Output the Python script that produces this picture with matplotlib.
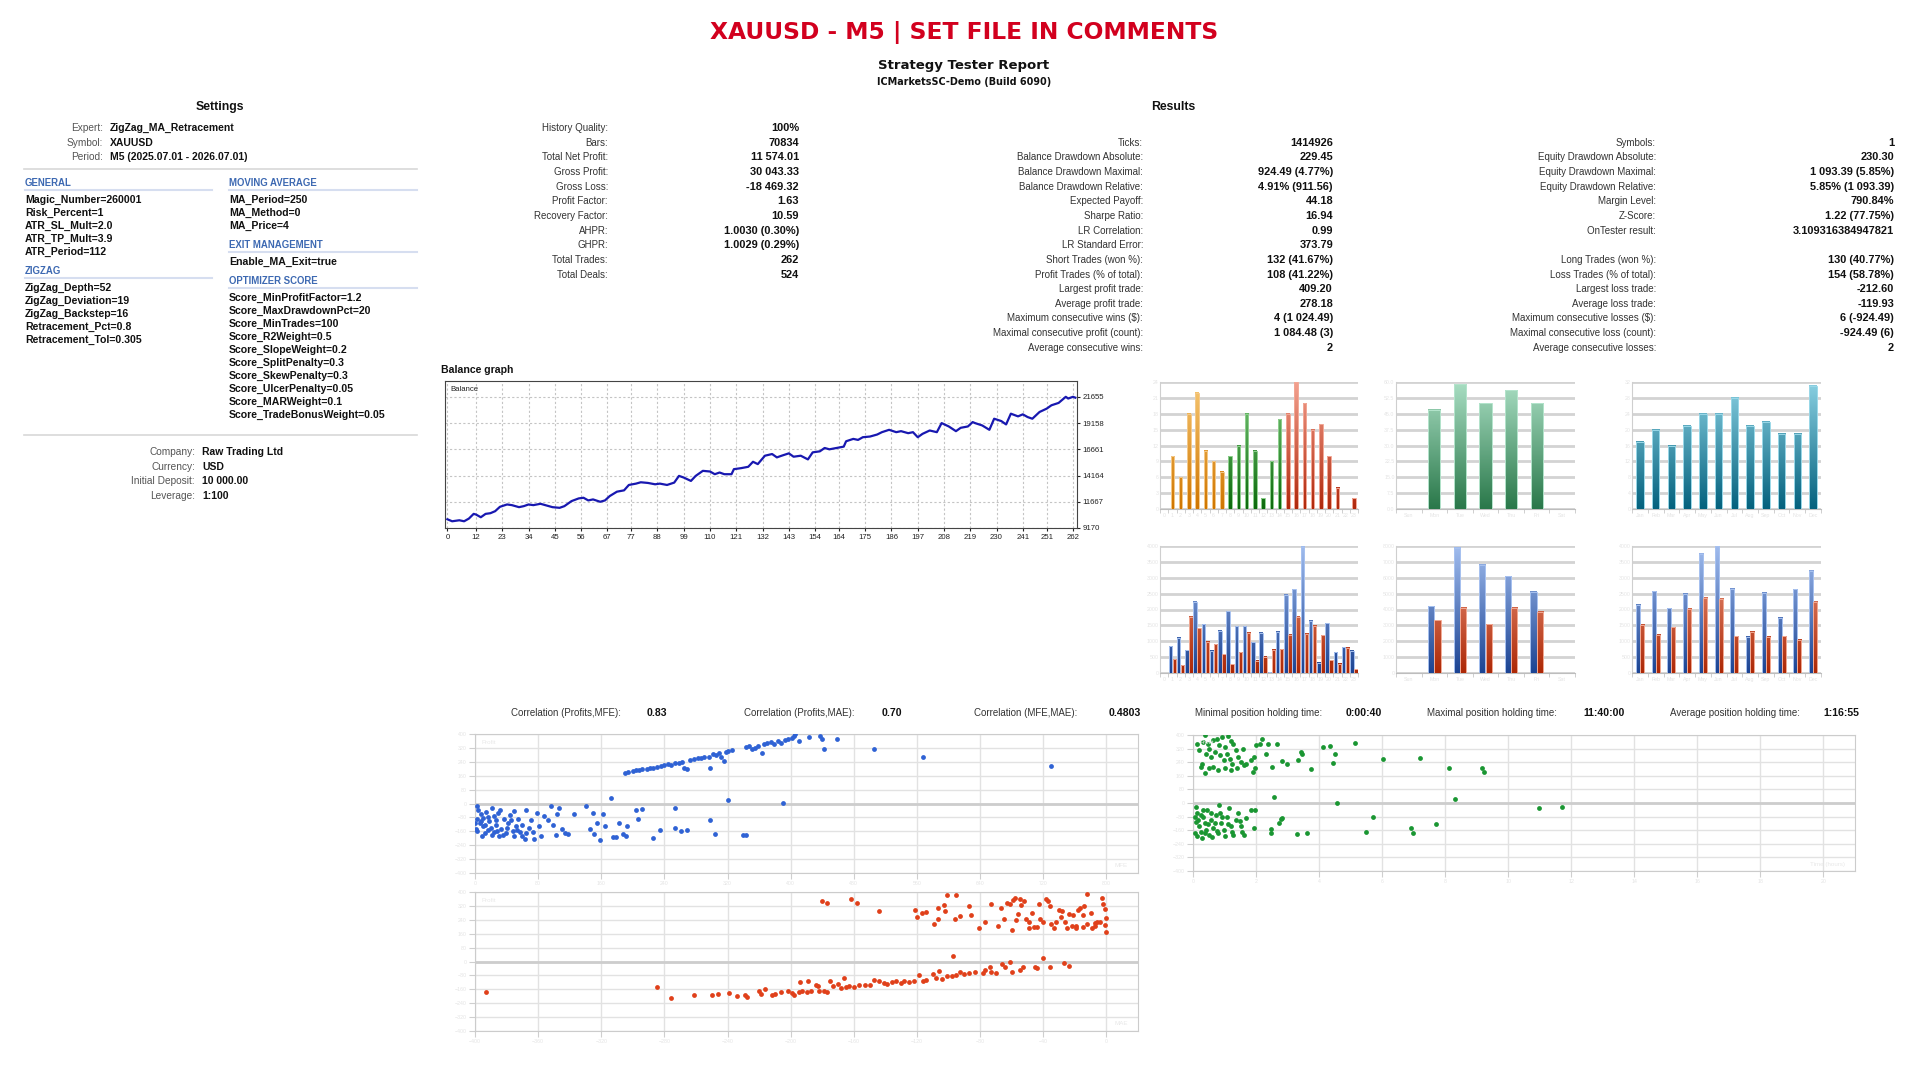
import numpy as np
import matplotlib
matplotlib.use('Agg')
import matplotlib.pyplot as plt
from matplotlib.colors import LinearSegmentedColormap
from matplotlib.patches import Rectangle

plt.rcParams['font.family'] = ['Liberation Sans', 'DejaVu Sans']

# ---------------- data ----------------
title = 'XAUUSD - M5 | SET FILE IN COMMENTS'

settings_head = [('Expert:', 'ZigZag_MA_Retracement'),
                 ('Symbol:', 'XAUUSD'),
                 ('Period:', 'M5 (2025.07.01 - 2026.07.01)')]
general = ['Magic_Number=260001', 'Risk_Percent=1', 'ATR_SL_Mult=2.0',
           'ATR_TP_Mult=3.9', 'ATR_Period=112']
zigzag = ['ZigZag_Depth=52', 'ZigZag_Deviation=19', 'ZigZag_Backstep=16',
          'Retracement_Pct=0.8', 'Retracement_Tol=0.305']
moving_average = ['MA_Period=250', 'MA_Method=0', 'MA_Price=4']
exit_management = ['Enable_MA_Exit=true']
optimizer_score = ['Score_MinProfitFactor=1.2', 'Score_MaxDrawdownPct=20',
                   'Score_MinTrades=100', 'Score_R2Weight=0.5',
                   'Score_SlopeWeight=0.2', 'Score_SplitPenalty=0.3',
                   'Score_SkewPenalty=0.3', 'Score_UlcerPenalty=0.05',
                   'Score_MARWeight=0.1', 'Score_TradeBonusWeight=0.05']
account = [('Company:', 'Raw Trading Ltd'), ('Currency:', 'USD'),
           ('Initial Deposit:', '10 000.00'), ('Leverage:', '1:100')]

results_left = [('History Quality:', '100%'), ('Bars:', '70834'),
                ('Total Net Profit:', '11 574.01'), ('Gross Profit:', '30 043.33'),
                ('Gross Loss:', '-18 469.32'), ('Profit Factor:', '1.63'),
                ('Recovery Factor:', '10.59'), ('AHPR:', '1.0030 (0.30%)'),
                ('GHPR:', '1.0029 (0.29%)'), ('Total Trades:', '262'),
                ('Total Deals:', '524')]
results_mid = [None, ('Ticks:', '1414926'),
               ('Balance Drawdown Absolute:', '229.45'),
               ('Balance Drawdown Maximal:', '924.49 (4.77%)'),
               ('Balance Drawdown Relative:', '4.91% (911.56)'),
               ('Expected Payoff:', '44.18'), ('Sharpe Ratio:', '16.94'),
               ('LR Correlation:', '0.99'), ('LR Standard Error:', '373.79'),
               ('Short Trades (won %):', '132 (41.67%)'),
               ('Profit Trades (% of total):', '108 (41.22%)'),
               ('Largest profit trade:', '409.20'),
               ('Average profit trade:', '278.18'),
               ('Maximum consecutive wins ($):', '4 (1 024.49)'),
               ('Maximal consecutive profit (count):', '1 084.48 (3)'),
               ('Average consecutive wins:', '2')]
results_right = [None, ('Symbols:', '1'),
                 ('Equity Drawdown Absolute:', '230.30'),
                 ('Equity Drawdown Maximal:', '1 093.39 (5.85%)'),
                 ('Equity Drawdown Relative:', '5.85% (1 093.39)'),
                 ('Margin Level:', '790.84%'), ('Z-Score:', '1.22 (77.75%)'),
                 ('OnTester result:', '3.109316384947821'), None,
                 ('Long Trades (won %):', '130 (40.77%)'),
                 ('Loss Trades (% of total):', '154 (58.78%)'),
                 ('Largest loss trade:', '-212.60'),
                 ('Average loss trade:', '-119.93'),
                 ('Maximum consecutive losses ($):', '6 (-924.49)'),
                 ('Maximal consecutive loss (count):', '-924.49 (6)'),
                 ('Average consecutive losses:', '2')]

corr_stats = [('Correlation (Profits,MFE):', '0.83'),
              ('Correlation (Profits,MAE):', '0.70'),
              ('Correlation (MFE,MAE):', '0.4803')]
hold_stats = [('Minimal position holding time:', '0:00:40'),
              ('Maximal position holding time:', '11:40:00'),
              ('Average position holding time:', '1:16:55')]

# balance curve (trade number, balance)
balance_points = [(0, 10000), (2, 9810), (4, 9874), (5, 9906), (7, 9810), (9, 10066),
                  (11, 10514), (12, 10450), (14, 10194), (16, 10514), (18, 10578),
                  (20, 10770), (22, 11186), (25, 11410), (27, 11346), (30, 11154),
                  (32, 11250), (34, 11410), (36, 11346), (39, 11474), (41, 11346),
                  (44, 11154), (47, 11090), (49, 11250), (52, 11730), (55, 11986),
                  (57, 12050), (59, 11794), (61, 11890), (64, 11666), (66, 11794),
                  (68, 12210), (71, 12626), (74, 12754), (76, 13266), (79, 13394),
                  (81, 13522), (84, 13458), (87, 13330), (89, 13394), (92, 13266),
                  (95, 13490), (97, 14130), (99, 13970), (102, 13650), (104, 14130),
                  (107, 14610), (110, 14546), (112, 14290), (114, 14450), (116, 14290),
                  (119, 14290), (120, 14770), (123, 14866), (126, 14994), (128, 15474),
                  (130, 15250), (133, 16050), (136, 16210), (138, 15890), (140, 16050),
                  (143, 16274), (145, 15954), (148, 16050), (151, 15698), (153, 16370),
                  (156, 16466), (158, 16786), (160, 16658), (163, 16786), (166, 16914),
                  (167, 17426), (170, 17650), (172, 17554), (174, 17810), (177, 17874),
                  (180, 18066), (182, 18290), (185, 18514), (188, 18290), (190, 18386),
                  (193, 18194), (195, 18290), (197, 17810), (199, 18130), (202, 18450),
                  (205, 18290), (207, 19154), (210, 18834), (213, 18386), (215, 18706),
                  (218, 18834), (220, 19250), (221, 19154), (224, 18930), (227, 18514),
                  (229, 19570), (232, 19346), (234, 19026), (236, 20050), (239, 19794),
                  (241, 19986), (243, 19730), (245, 19570), (248, 20210), (251, 20530),
                  (253, 20850), (256, 21074), (259, 21655), (260, 21490), (262, 21655),
                  (263, 21574)]
bal_xticks = [0, 12, 23, 34, 45, 56, 67, 77, 88, 99, 110, 121, 132, 143, 154, 164,
              175, 186, 197, 208, 219, 230, 241, 251, 262]
bal_yticks = [9170, 11667, 14164, 16661, 19158, 21655]

hours = [str(h) for h in range(24)]
weekdays = ['Sun', 'Mon', 'Tue', 'Wed', 'Thu', 'Fri', 'Sat']
months = ['Jan', 'Feb', 'Mar', 'Apr', 'May', 'Jun', 'Jul', 'Aug', 'Sep', 'Oct', 'Nov', 'Dec']

entries_by_hour = [0, 10, 6, 18, 22, 11, 9, 7, 10, 12, 18, 11, 2, 9, 17, 18, 24, 20,
                   15, 16, 10, 4, 0, 2]
entries_by_weekday = [0, 47, 59, 50, 56, 50, 0]
entries_by_month = [17, 20, 16, 21, 24, 24, 28, 21, 22, 19, 19, 31]

profit_by_hour = [0, 840, 1115, 715, 2250, 1535, 695, 1325, 1945, 1470, 1470, 975,
                  1260, 30, 1305, 2460, 2635, 3970, 1640, 315, 1565, 660, 810, 695]
loss_by_hour = [0, 430, 250, 1765, 1410, 985, 905, 590, 275, 650, 1260, 380, 505,
                735, 755, 1210, 1765, 1230, 1490, 1195, 400, 285, 800, 125]
profit_by_weekday = [0, 4220, 7900, 6810, 6090, 5130, 0]
loss_by_weekday = [0, 3320, 4100, 3070, 4100, 3870, 0]
profit_by_month = [2145, 2575, 2040, 2500, 3750, 4000, 2660, 1135, 2530, 1735, 2645, 3225]
loss_by_month = [1515, 1210, 1440, 2025, 2375, 2340, 1155, 1300, 1145, 1165, 1050, 2250]

# scatter: (MFE, profit)
mfe_profit = [(190, 177), (194, 183), (200, 187), (204, 190), (208, 192), (212, 196),
              (218, 200), (222, 204), (226, 206), (231, 210), (236, 215), (240, 223),
              (244, 225), (248, 221), (254, 231), (258, 235), (262, 240), (265, 206),
              (269, 200), (273, 250), (277, 254), (282, 260), (286, 262), (290, 265),
              (297, 269), (298, 206), (301, 283), (305, 277), (309, 288), (312, 269),
              (318, 296), (320, 302), (325, 308), (316, 244), (343, 327), (347, 331),
              (351, 315), (355, 321), (359, 331), (364, 288), (366, 340), (370, 350),
              (375, 354), (379, 340), (384, 360), (388, 350), (393, 365), (397, 373),
              (401, 379), (404, 388), (406, 398), (410, 360), (423, 385), (437, 388),
              (440, 369), (442, 315), (459, 369), (506, 315), (568, 269), (730, 215),
              (2, -15), (4, -35), (7, -63), (3, -92), (6, -115), (10, -131), (2, -160),
              (13, -169), (9, -188), (16, -77), (18, -102), (20, -140), (22, -25),
              (24, -165), (27, -121), (29, -54), (31, -188), (33, -146), (37, -92),
              (39, -169), (42, -112), (44, -69), (48, -160), (50, -188), (52, -131),
              (54, -88), (57, -165), (60, -121), (63, -204), (65, -35), (68, -140),
              (71, -96), (75, -204), (78, -54), (81, -127), (83, -188), (88, -73),
              (92, -96), (96, -15), (99, -121), (102, -179), (104, -63), (107, -25),
              (110, -146), (114, -169), (118, -173), (125, -63), (140, -12),
              (146, -146), (149, -54), (151, -175), (154, -112), (158, -208),
              (162, -63), (165, -127), (172, 33), (175, -192), (179, -194), (183, -115),
              (187, -173), (191, -188), (193, -131), (204, -35), (206, -92), (212, -29),
              (226, -200), (235, -154), (254, -25), (254, -140), (261, -160),
              (268, -154), (298, -96), (304, -175), (320, 19), (340, -179), (343, -183),
              (390, 2), (7, -102), (13, -121), (17, -150), (21, -179), (26, -96),
              (28, -160), (35, -179), (41, -140), (46, -96), (53, -154), (59, -185),
              (64, -169), (74, -165), (10, -83), (0, -112), (1, -146), (14, -50),
              (32, -35), (49, -44), (24, -73)]

# scatter: (holding hours, profit)
hold_profit = [(0.38, 398), (0.31, 359), (0.47, 349), (0.51, 320), (0.65, 369),
               (0.75, 378), (0.83, 339), (0.93, 388), (1.03, 330), (1.11, 392),
               (1.21, 365), (1.28, 349), (1.35, 310), (0.42, 291), (0.58, 271),
               (0.69, 300), (0.86, 281), (0.97, 255), (1.07, 291), (1.17, 261),
               (1.25, 232), (1.42, 271), (1.53, 242), (1.58, 320), (1.69, 232),
               (1.83, 252), (1.94, 271), (2.0, 339), (2.11, 345), (2.18, 378),
               (2.32, 291), (2.39, 349), (2.5, 213), (2.67, 349), (1.97, 203),
               (1.9, 183), (1.63, 222), (1.39, 203), (1.21, 193), (1.0, 203),
               (0.79, 197), (0.65, 213), (0.51, 203), (0.38, 177), (0.24, 213),
               (0.19, 310), (0.14, 349), (0.28, 232), (2.83, 248), (2.97, 232),
               (3.33, 252), (3.43, 300), (3.47, 287), (3.75, 199), (4.13, 330),
               (4.36, 335), (4.5, 291), (4.44, 238), (5.14, 353), (6.04, 259),
               (7.21, 265), (8.11, 205), (9.17, 205), (9.22, 181),
               (0.1, -21), (0.14, -60), (0.17, -99), (0.19, -138), (0.06, -177),
               (0.24, -168), (0.28, -207), (0.33, -80), (0.38, -119), (0.42, -158),
               (0.44, -41), (0.51, -187), (0.58, -99), (0.65, -148), (0.72, -70),
               (0.79, -174), (0.83, -12), (0.89, -119), (0.97, -158), (1.07, -80),
               (1.14, -31), (1.21, -138), (1.28, -187), (1.35, -99), (1.42, -60),
               (1.53, -138), (1.63, -187), (1.69, -90), (1.83, -41), (1.94, -148),
               (1.97, -41), (2.46, -154), (2.46, -177), (2.74, -119), (2.78, -96),
               (2.81, -90), (3.29, -181), (3.61, -174), (2.56, 33), (4.56, 2),
               (5.5, -168), (5.72, -84), (6.9, -148), (6.97, -174), (7.72, -123),
               (8.31, 21), (10.96, -31), (11.71, -21), (0.1, -109), (0.24, -70),
               (0.31, -41), (0.47, -123), (0.56, -60), (0.61, -201), (0.69, -115),
               (0.75, -162), (0.93, -84), (1.03, -193), (1.11, -123), (1.25, -168),
               (0.06, -80), (0.14, -193), (0.38, -177), (0.86, -57), (1.49, -103),
               (1.56, -168)]

# scatter: (MAE, profit)
mae_profit = [(-180, 347), (-177, 339), (-162, 358), (-158, 339), (-144, 290),
              (-121, 295), (-120, 257), (-117, 282), (-114, 286), (-109, 213),
              (-107, 244), (-107, 309), (-103, 324), (-101, 381), (-102, 290),
              (-96, 244), (-95, 385), (-93, 263), (-87, 320), (-86, 267), (-81, 191),
              (-77, 225), (-73, 333), (-69, 206), (-67, 309), (-65, 244), (-63, 339),
              (-61, 333), (-60, 181), (-59, 352), (-58, 366), (-57, 238), (-56, 271),
              (-55, 358), (-54, 328), (-52, 347), (-51, 244), (-49, 225), (-49, 191),
              (-47, 282), (-46, 200), (-44, 200), (-43, 333), (-42, 244), (-40, 229),
              (-38, 362), (-37, 347), (-36, 320), (-35, 213), (-33, 191), (-32, 225),
              (-30, 295), (-29, 257), (-28, 290), (-26, 225), (-25, 191), (-24, 271),
              (-21, 267), (-19, 191), (-19, 206), (-18, 295), (-17, 309), (-15, 267),
              (-14, 320), (-12, 391), (-12, 213), (-10, 282), (-9, 191), (-7, 219),
              (-7, 206), (-6, 229), (-4, 225), (-3, 366), (-2, 333), (-1, 305),
              (-1, 210), (0, 251), (0, 171), (-15, 200), (-22, 206),
              (-393, -175), (-285, -149), (-276, -210), (-261, -194), (-250, -194),
              (-246, -187), (-239, -181), (-234, -196), (-229, -191), (-228, -202),
              (-220, -171), (-219, -185), (-216, -156), (-212, -194), (-210, -187),
              (-206, -175), (-202, -168), (-199, -181), (-198, -191), (-195, -175),
              (-194, -118), (-193, -171), (-190, -175), (-189, -114), (-187, -168),
              (-184, -133), (-183, -143), (-182, -171), (-179, -168), (-177, -175),
              (-175, -110), (-173, -143), (-170, -130), (-168, -152), (-166, -95),
              (-165, -149), (-163, -143), (-160, -149), (-157, -133), (-153, -133),
              (-150, -137), (-147, -105), (-144, -110), (-141, -124), (-139, -130),
              (-136, -118), (-133, -114), (-130, -124), (-128, -114), (-125, -118),
              (-122, -114), (-119, -76), (-116, -114), (-114, -105), (-110, -72),
              (-108, -95), (-106, -53), (-104, -99), (-101, -86), (-98, -86),
              (-97, 34), (-95, -76), (-93, -61), (-90, -72), (-87, -67), (-83, -61),
              (-78, -67), (-77, -48), (-74, -29), (-73, -61), (-70, -67), (-66, -15),
              (-64, -34), (-61, 0), (-60, -61), (-55, -48), (-53, -34), (-45, -30),
              (-44, -38), (-40, 19), (-36, -34), (-27, -11), (-24, -25)]

# ---------------- layout helpers (pixel positions) ----------------
W, H = 1920, 1078
fig = plt.figure(figsize=(W / 100, H / 100), dpi=100)
fig.patch.set_facecolor('white')


def txt(x, y, s, size=7.0, bold=False, color='#222222', ha='left', **kw):
    fig.text(x / W, 1 - y / H, s, fontsize=size,
             fontweight='bold' if bold else 'normal', color=color,
             ha=ha, va='center', **kw)


def hline(x0, x1, y, color='#d8d8d8', lw=1.2):
    fig.add_artist(plt.Line2D([x0 / W, x1 / W], [1 - y / H, 1 - y / H],
                              color=color, lw=lw))


def axes_px(x0, y0, x1, y1):
    return fig.add_axes([x0 / W, 1 - y1 / H, (x1 - x0) / W, (y1 - y0) / H])


# ---------------- header ----------------
txt(964, 33, title, size=16.8, bold=True, color='#d2001e', ha='center',
    family='DejaVu Sans')
txt(964, 65, 'Strategy Tester Report', size=9.5, bold=True, color='#111111',
    ha='center', family='DejaVu Sans')
txt(964, 82, 'ICMarketsSC-Demo (Build 6090)', size=6.9, bold=True,
    color='#111111', ha='center', family='DejaVu Sans')

# ---------------- settings ----------------
txt(220, 107, 'Settings', size=8.8, bold=True, ha='center', color='#111111')
for i, (lab, val) in enumerate(settings_head):
    y = 128 + 14.5 * i
    txt(103, y, lab, size=7.3, color='#555555', ha='right')
    txt(110, y, val, size=7.5, bold=True, color='#111111')
hline(24, 417, 169)

head_col = '#3d69b2'


def section(x0, x1, y, name, items):
    txt(x0, y, name, size=6.9, bold=True, color=head_col)
    hline(x0, x1, y + 7, color='#d6def0', lw=1.5)
    y += 17
    for it in items:
        txt(x0, y, it, size=7.6, bold=True, color='#111111')
        y += 13
    return y - 13 + 19


y_next = section(25, 212, 183, 'GENERAL', general)
section(25, 212, y_next, 'ZIGZAG', zigzag)
y_next = section(229, 417, 183, 'MOVING AVERAGE', moving_average)
y_next = section(229, 417, y_next, 'EXIT MANAGEMENT', exit_management)
section(229, 417, y_next, 'OPTIMIZER SCORE', optimizer_score)

hline(24, 417, 435)
for i, (lab, val) in enumerate(account):
    y = 452 + 14.7 * i
    txt(195, y, lab, size=7.3, color='#555555', ha='right')
    txt(202, y, val, size=7.5, bold=True, color='#111111')

# ---------------- results ----------------
txt(1173, 107, 'Results', size=8.8, bold=True, ha='center', color='#111111')


def result_col(rows, lab_x, val_x):
    for i, row in enumerate(rows):
        if row is None:
            continue
        y = 128 + 14.65 * i
        txt(lab_x, y, row[0], size=7.0, color='#333333', ha='right')
        txt(val_x, y, row[1], size=7.9, bold=True, color='#111111', ha='right')


result_col(results_left, 608, 799)
result_col(results_mid, 1143, 1333)
result_col(results_right, 1656, 1894)

# ---------------- balance graph ----------------
txt(441, 370, 'Balance graph', size=7.6, bold=True, color='#111111')
ax = axes_px(445, 381, 1077, 528)
bt, bv = np.array(balance_points).T
ax.plot(bt, bv, color='#1818b0', lw=1.6)
ax.set_xlim(-1, 263.7)
ax.set_ylim(9170, 23160)
ax.set_xticks(bal_xticks)
ax.set_yticks(bal_yticks)
ax.yaxis.tick_right()
ax.grid(color='#c4c4c4', lw=0.8, ls=(0, (2, 2)))
ax.tick_params(labelsize=5.6, length=2, pad=2, colors='#222222')
for s in ax.spines.values():
    s.set_color('#444444')
    s.set_linewidth(0.8)
ax.text(0.008, 0.965, 'Balance', transform=ax.transAxes, fontsize=5.6,
        va='top', ha='left', color='#222222')


# ---------------- bar charts ----------------
def grad_bar(ax, x, h, w, ctop, cbot, ymax, edge):
    if h <= 0:
        return
    cmap = LinearSegmentedColormap.from_list('g', [cbot, ctop])
    g = np.linspace(0, h / ymax, 60).reshape(-1, 1)
    ax.imshow(g, extent=(x - w / 2, x + w / 2, 0, h), origin='lower',
              aspect='auto', cmap=cmap, vmin=0, vmax=1, zorder=3,
              interpolation='bilinear')
    ax.add_patch(Rectangle((x - w / 2, 0), w, h, fill=False, ec=edge,
                           lw=0.7, zorder=4))


def bar_axes(box, labels, ymax, step):
    ax = axes_px(*box)
    n = len(labels)
    ax.set_xticks(np.arange(n))
    ax.set_xticklabels(labels)
    ax.set_xticks(np.arange(-0.5, n), minor=True)
    ax.set_yticks(np.arange(0, ymax + step * 0.01, step))
    ax.grid(axis='y', color='#d3d3d3', lw=2.0)
    ax.set_axisbelow(True)
    for s in ['top', 'right']:
        ax.spines[s].set_visible(False)
    ax.spines['left'].set_color('#cfcfcf')
    ax.spines['bottom'].set_color('#bdbdbd')
    ax.tick_params(axis='x', which='major', length=0, labelsize=3.8,
                   labelcolor='#e4e4e4', pad=3)
    ax.tick_params(axis='x', which='minor', length=3, color='#c8c8c8')
    ax.tick_params(axis='y', length=0, labelsize=3.8, labelcolor='#e4e4e4', pad=1)
    return ax


def finish(ax, n, ymax):
    ax.set_xlim(-0.5, n - 0.5)
    ax.set_ylim(0, ymax)


col_x = [(1160, 1358), (1396, 1575), (1632, 1821)]

# entries by hours (orange / green / red sessions)
ax = bar_axes((col_x[0][0], 382, col_x[0][1], 509), hours, 24, 3)
for i, v in enumerate(entries_by_hour):
    if i <= 7:
        ct, cb, ce = '#f7c873', '#d07600', '#f4c98a'
    elif i <= 14:
        ct, cb, ce = '#7fcb7f', '#0c6a0c', '#8fd08f'
    else:
        ct, cb, ce = '#f3a08e', '#b0280c', '#f2a896'
    grad_bar(ax, i, v, 0.45, ct, cb, 24, ce)
finish(ax, 24, 24)

ax = bar_axes((col_x[1][0], 382, col_x[1][1], 509), weekdays, 60, 7.5)
for i, v in enumerate(entries_by_weekday):
    grad_bar(ax, i, v, 0.47, '#a8ddc2', '#2a784a', 60, '#b4e4cc')
finish(ax, 7, 60)

ax = bar_axes((col_x[2][0], 382, col_x[2][1], 509), months, 32, 4)
for i, v in enumerate(entries_by_month):
    grad_bar(ax, i, v, 0.47, '#8ad0e2', '#05627e', 32, '#9ad8e8')
finish(ax, 12, 32)

# profit / loss by hours, weekdays, months
bottom_sets = [(hours, profit_by_hour, loss_by_hour, 4000, 500, 0.42, 0.25),
               (weekdays, profit_by_weekday, loss_by_weekday, 8000, 1000, 0.24, 0.125),
               (months, profit_by_month, loss_by_month, 4000, 500, 0.26, 0.13)]
for (x0, x1), (labs, prof, loss, ymax, step, w, off) in zip(col_x, bottom_sets):
    ax = bar_axes((x0, 546, x1, 673), labs, ymax, step)
    for i, (p, l) in enumerate(zip(prof, loss)):
        grad_bar(ax, i - off, p, w, '#a0bcee', '#1c4493', ymax, '#a8c2f0')
        grad_bar(ax, i + off, l, w, '#f0a088', '#ad2806', ymax, '#f2aa94')
    finish(ax, len(labs), ymax)

# ---------------- scatter plots ----------------
for i, (lab, val) in enumerate(corr_stats):
    txt([511, 744, 974][i], 713, lab, size=7.0, color='#333333')
    txt([647, 882, 1109][i], 713, val, size=7.6, bold=True, color='#111111')
for i, (lab, val) in enumerate(hold_stats):
    txt([1195, 1427, 1670][i], 713, lab, size=7.0, color='#333333')
    txt([1346, 1583, 1823][i], 713, val, size=7.6, bold=True, color='#111111')


def scatter_axes(box, pts, color, xlim, xticks, xname):
    ax = axes_px(*box)
    xs, ys = np.array(pts).T
    ax.scatter(xs, ys, s=12, color=color, lw=0, zorder=3)
    ax.set_xlim(*xlim)
    ax.set_ylim(-400, 400)
    ax.set_xticks(xticks)
    ax.set_yticks(np.arange(-400, 401, 80))
    ax.grid(color='#e2e2e2', lw=1.0)
    ax.axhline(0, color='#cdcdcd', lw=2.0, zorder=1)
    ax.set_axisbelow(True)
    for s in ax.spines.values():
        s.set_color('#cccccc')
    ax.tick_params(length=4, color='#cfcfcf', labelsize=3.8,
                   labelcolor='#e4e4e4', pad=2)
    ax.text(0.01, 0.96, 'Profit', transform=ax.transAxes, fontsize=4.5,
            color='#e8e8e8', va='top')
    ax.text(0.985, 0.04, xname, transform=ax.transAxes, fontsize=4.5,
            color='#e8e8e8', ha='right')
    return ax


scatter_axes((475, 734, 1138, 873), mfe_profit, '#2f62d4', (0, 840),
             np.arange(0, 801, 80), 'MFE')
scatter_axes((1193, 735, 1855, 871), hold_profit, '#1a9632', (0, 21),
             np.arange(0, 21, 2), 'Time (hours)')
scatter_axes((475, 892, 1138, 1031), mae_profit, '#e0401a', (-400, 20),
             np.arange(-400, 1, 40), 'MAE')

fig.savefig('out.png', dpi=100, facecolor='white')
